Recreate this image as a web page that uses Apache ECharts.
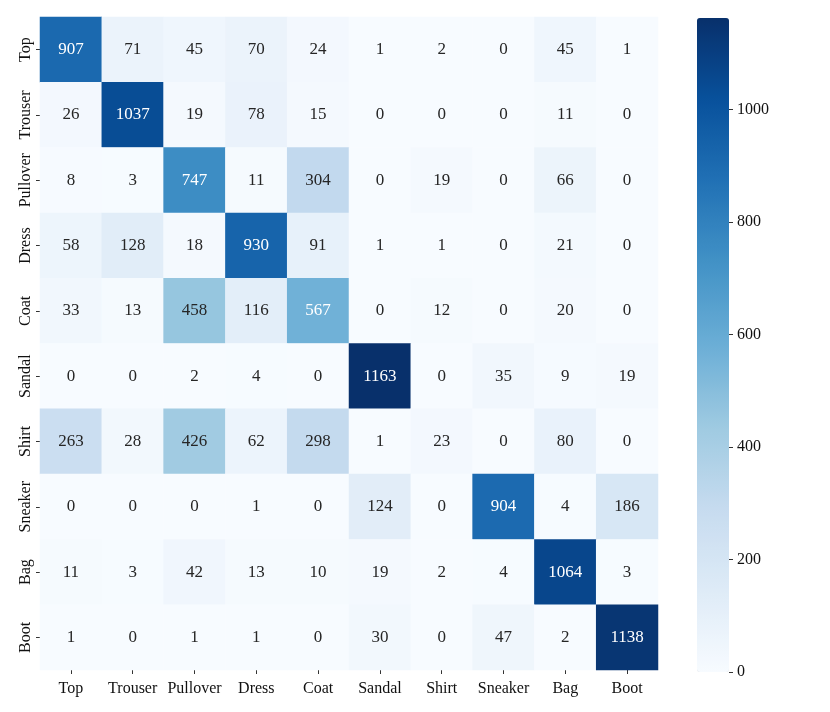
<!doctype html>
<html lang="en">
<head>
    <title>confusion matrix</title>
    <script src="https://cdn.jsdelivr.net/npm/echarts@6/dist/echarts.min.js"></script>
</head>
<body style="margin:0;">
<div id="cm" style="width:830px;height:712px;"></div>
<script>

var classes = ['Top', 'Trouser', 'Pullover', 'Dress', 'Coat', 'Sandal', 'Shirt', 'Sneaker', 'Bag', 'Boot'];

// rows = true class, columns = predicted
var rowTop      = [907, 71, 45, 70, 24, 1, 2, 0, 45, 1];
var rowTrouser  = [26, 1037, 19, 78, 15, 0, 0, 0, 11, 0];
var rowPullover = [8, 3, 747, 11, 304, 0, 19, 0, 66, 0];
var rowDress    = [58, 128, 18, 930, 91, 1, 1, 0, 21, 0];
var rowCoat     = [33, 13, 458, 116, 567, 0, 12, 0, 20, 0];
var rowSandal   = [0, 0, 2, 4, 0, 1163, 0, 35, 9, 19];
var rowShirt    = [263, 28, 426, 62, 298, 1, 23, 0, 80, 0];
var rowSneaker  = [0, 0, 0, 1, 0, 124, 0, 904, 4, 186];
var rowBag      = [11, 3, 42, 13, 10, 19, 2, 4, 1064, 3];
var rowBoot     = [1, 0, 1, 1, 0, 30, 0, 47, 2, 1138];

var rows = [rowTop, rowTrouser, rowPullover, rowDress, rowCoat,
            rowSandal, rowShirt, rowSneaker, rowBag, rowBoot];

var colorbarTicks = [0, 200, 400, 600, 800, 1000];

var blues = ['#f7fbff', '#deebf7', '#c6dbef', '#9ecae1', '#6baed6',
             '#4292c6', '#2171b5', '#08519c', '#08306b'];

var vmax = 1163;
var font = 'Liberation Serif';

var cells = [];
rows.forEach(function(r, i){
    r.forEach(function(v, j){
        cells.push({
            value: [j, i, v],
            label: {color: v > 500 ? '#ffffff' : '#262626'}
        });
    });
});

var myChart = echarts.init(document.getElementById('cm'));

myChart.setOption({
    backgroundColor: '#ffffff',
    animation: false,
    grid: [
        {left: 40, top: 17, width: 618, height: 653},
        // colorbar axis sits just right of the visualMap bar
        {left: 729, top: 18, width: 1, height: 654}
    ],
    xAxis: [
        {
            gridIndex: 0, type: 'category', data: classes,
            axisLine: {show: false},
            axisTick: {show: true, interval: 0, alignWithLabel: true, length: 4, lineStyle: {color: '#333'}},
            axisLabel: {interval: 0, fontFamily: font, fontSize: 16, color: '#111', margin: 7},
            splitLine: {show: false}
        },
        {gridIndex: 1, type: 'value', show: false, min: 0, max: 1}
    ],
    yAxis: [
        {
            gridIndex: 0, type: 'category', data: classes, inverse: true,
            axisLine: {show: false},
            axisTick: {show: true, interval: 0, alignWithLabel: true, length: 4, lineStyle: {color: '#333'}},
            axisLabel: {interval: 0, fontFamily: font, fontSize: 16, color: '#111', rotate: 90, margin: 2},
            splitLine: {show: false}
        },
        {
            gridIndex: 1, type: 'value', position: 'left', z: 10,
            min: 0, max: vmax, interval: 200,
            axisLine: {show: false},
            axisTick: {show: true, inside: true, length: 4, customValues: colorbarTicks,
                       lineStyle: {color: '#333', width: 1}},
            axisLabel: {
                inside: true, customValues: colorbarTicks,
                fontFamily: font, fontSize: 16, color: '#111', margin: 8,
                formatter: function(v){ return String(v); }
            },
            splitLine: {show: false}
        }
    ],
    visualMap: {
        type: 'continuous',
        min: 0, max: vmax,
        seriesIndex: 0,
        calculable: false,
        orient: 'vertical',
        left: 697, top: 18,
        itemWidth: 32, itemHeight: 654,
        padding: 0,
        text: null,
        showLabel: false,
        inRange: {color: blues}
    },
    series: [
        {
            type: 'heatmap',
            xAxisIndex: 0, yAxisIndex: 0,
            data: cells,
            label: {show: true, fontFamily: font, fontSize: 17},
            itemStyle: {borderWidth: 0},
            emphasis: {disabled: true}
        }
    ]
});

</script>
</body>
</html>
